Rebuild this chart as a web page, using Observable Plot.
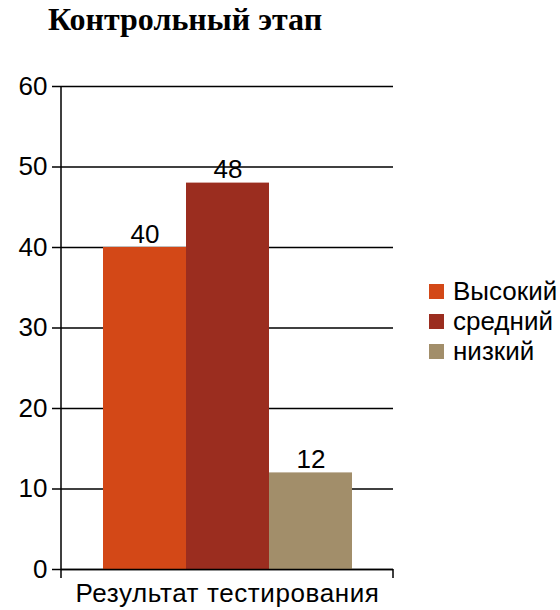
<!DOCTYPE html>
<html><head><meta charset="utf-8">
<script src="https://cdn.jsdelivr.net/npm/d3@7"></script>
<script src="https://cdn.jsdelivr.net/npm/@observablehq/plot@0.6"></script>
<style>
body{margin:0;background:#fff;}
#wrap{position:relative;width:560px;height:610px;font-family:"Liberation Sans",Arial,sans-serif;color:#000;}
#title{position:absolute;left:0;width:370px;text-align:center;top:1px;font:bold 32px "Liberation Serif","Times New Roman",serif;}
#chart{position:absolute;left:0;top:60px;}
#legend{position:absolute;left:429px;top:276px;font-size:26px;}
.item{display:flex;align-items:center;height:30px;}
.sw{width:15px;height:15px;margin-right:9px;}
</style>
</head><body>
<div id="wrap">
  <div id="title">Контрольный этап</div>
  <div id="chart"></div>
  <div id="legend"></div>
</div>
<script>
const levels = ["Высокий", "средний", "низкий"];
const values = [40, 48, 12];
const colors = ["#D34817", "#9B2D1F", "#A28E6A"];
const groupLabel = "Результат тестирования";
const yTicks = [0, 10, 20, 30, 40, 50, 60];

const data = levels.map((l, i) => ({level: l, value: values[i]}));

const chart = Plot.plot({
  width: 400,
  height: 550,
  marginLeft: 61,
  marginRight: 7,
  marginTop: 26,
  marginBottom: 41,
  style: {fontFamily: '"Liberation Sans", Arial, sans-serif', color: "#000", background: "transparent"},
  x: {domain: levels, paddingInner: 0, paddingOuter: 0.5, axis: null},
  y: {domain: [0, 60]},
  color: {domain: levels, range: colors},
  marks: [
    Plot.gridY(yTicks, {stroke: "#000", strokeOpacity: 1, strokeWidth: 1.5}),
    Plot.axisY(yTicks, {tickSize: 9, tickPadding: 5, fontSize: 26, label: null, strokeWidth: 1.5, tickFormat: d => String(d)}),
    Plot.barY(data, {x: "level", y: "value", fill: "level"}),
    Plot.text(data, {x: "level", y: "value", text: d => String(d.value), lineAnchor: "bottom", dy: -5, fontSize: 26, fill: "#000"}),
    Plot.ruleY([0], {stroke: "#000", strokeWidth: 1.5}),
    Plot.text([groupLabel], {frameAnchor: "bottom", lineAnchor: "bottom", dy: 32, fontSize: 26, fill: "#000", className: "grp"})
  ]
});

d3.select(chart).selectAll(".grp text").style("letter-spacing", "0.6px");

// y-axis domain line and category boundary ticks, from the plot's own scales
const sx = chart.scale("x"), sy = chart.scale("y");
const [x0, x1] = sx.range;
const yTop = sy.apply(60), yBase = sy.apply(0);
d3.select(chart).append("path")
  .attr("d", `M${x0},${yTop}V${yBase + 9}M${x1},${yBase}V${yBase + 9}`)
  .attr("stroke", "#000").attr("stroke-width", 1.5).attr("fill", "none");

document.getElementById("chart").appendChild(chart);

const legend = d3.select("#legend");
levels.forEach((l, i) => {
  const it = legend.append("div").attr("class", "item");
  it.append("div").attr("class", "sw").style("background", colors[i]);
  it.append("span").text(l);
});
</script>
</body></html>
